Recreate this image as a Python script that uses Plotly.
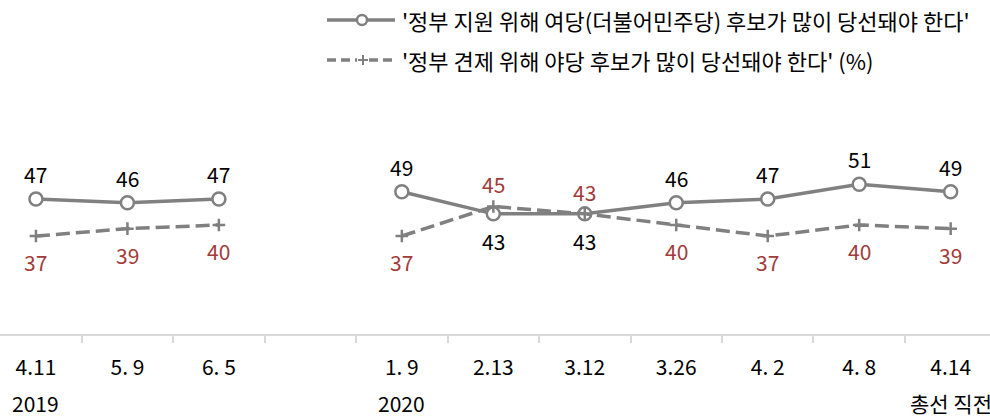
import plotly.graph_objects as go

categories = ["4.11", "5. 9", "6. 5", " ", "1. 9", "2.13", "3.12", "3.26", "4. 2", "4. 8", "4.14"]
sublabels = ["2019", "", "", "", "2020", "", "", "", "", "", "총선 직전"]
support_ruling = [47, 46, 47, None, 49, 43, 43, 46, 47, 51, 49]
check_opposition = [37, 39, 40, None, 37, 45, 43, 40, 37, 40, 39]
name_support = "'정부 지원 위해 여당(더불어민주당) 후보가 많이 당선돼야 한다'"
name_check = "'정부 견제 위해 야당 후보가 많이 당선돼야 한다' (%)"

FONT = "Noto Sans CJK KR"
GRAY = "#808080"
RED = "#A23B3B"
W, H = 990, 417
MT, MB = 100, 83
PH = H - MT - MB


def px_x(X):
    return X / W


def px_y(Y):
    return (H - MB - Y) / PH


fig = go.Figure()
fig.add_trace(go.Scatter(
    x=categories, y=support_ruling, name=name_support, mode="lines+markers",
    line=dict(color=GRAY, width=3.5),
    marker=dict(symbol="circle", size=13, color="white", line=dict(color=GRAY, width=2.5)),
    connectgaps=False, showlegend=False,
))
fig.add_trace(go.Scatter(
    x=categories, y=check_opposition, name=name_check, mode="lines+markers",
    line=dict(color=GRAY, width=3.5, dash="14px,6px"),
    marker=dict(symbol="cross-thin", size=9, color=GRAY, line=dict(color=GRAY, width=2.5)),
    connectgaps=False, showlegend=False,
))

annotations = []
for i, (a, b) in enumerate(zip(support_ruling, check_opposition)):
    if a is None:
        continue
    a_above = a > b
    annotations.append(dict(x=i, y=a, text=str(a), showarrow=False, xref="x", yref="y",
                            yshift=25 if a_above else -27,
                            font=dict(size=21, color="#000000", family=FONT)))
    annotations.append(dict(x=i, y=b, text=str(b), showarrow=False, xref="x", yref="y",
                            yshift=-26 if a_above else 22,
                            font=dict(size=21, color=RED, family=FONT)))
for i, s in enumerate(sublabels):
    if s:
        annotations.append(dict(x=i, y=0, xref="x", yref="paper", text=s, showarrow=False,
                                yanchor="middle", yshift=-69,
                                font=dict(size=21, color="#000000", family=FONT)))

# manual legend
shapes = []
legend_rows = [(name_support, 20, "solid"), (name_check, 60, "dash")]
for name, Y, kind in legend_rows:
    annotations.append(dict(x=px_x(400), y=px_y(Y), xref="paper", yref="paper", text=name,
                            showarrow=False, xanchor="left", yanchor="middle",
                            font=dict(size=22, color="#000000", family=FONT)))
    shapes.append(dict(type="line", xref="paper", yref="paper",
                       x0=px_x(327), x1=px_x(395), y0=px_y(Y), y1=px_y(Y),
                       line=dict(color=GRAY, width=3.5,
                                 dash="solid" if kind == "solid" else "9px,5px")))
    if kind == "solid":
        shapes.append(dict(type="circle", xref="paper", yref="paper",
                           xsizemode="pixel", ysizemode="pixel",
                           xanchor=px_x(362), yanchor=px_y(Y),
                           x0=-5, x1=5, y0=-5, y1=5,
                           fillcolor="white", line=dict(color=GRAY, width=2.5)))
    else:
        shapes.append(dict(type="rect", xref="paper", yref="paper",
                           xsizemode="pixel", ysizemode="pixel",
                           xanchor=px_x(363), yanchor=px_y(Y),
                           x0=-6, x1=6, y0=-3, y1=3,
                           fillcolor="white", line=dict(width=0)))
        shapes.append(dict(type="line", xref="paper", yref="paper",
                           xsizemode="pixel", ysizemode="pixel",
                           xanchor=px_x(363), yanchor=px_y(Y),
                           x0=-5, x1=5, y0=0, y1=0, line=dict(color=GRAY, width=2)))
        shapes.append(dict(type="line", xref="paper", yref="paper",
                           xsizemode="pixel", ysizemode="pixel",
                           xanchor=px_x(363), yanchor=px_y(Y),
                           x0=0, x1=0, y0=-5, y1=5, line=dict(color=GRAY, width=2)))

fig.update_layout(
    width=W, height=H,
    margin=dict(l=0, r=0, t=MT, b=MB),
    plot_bgcolor="white", paper_bgcolor="white",
    font=dict(family=FONT, size=21, color="#000000"),
    showlegend=False,
    annotations=annotations,
    shapes=shapes,
    xaxis=dict(type="category", categoryorder="array", categoryarray=categories,
               range=[-0.393, 10.43], showgrid=False, zeroline=False,
               showline=True, linecolor="#d9d9d9", linewidth=2,
               ticks="outside", tickson="boundaries", ticklen=7, tickcolor="#d9d9d9", tickwidth=1.5,
               ticklabelstandoff=14,
               tickfont=dict(size=21, family=FONT, color="#000000")),
    yaxis=dict(range=[10.5, 73.8], visible=False, showgrid=False, zeroline=False),
)

fig.write_html("out.html", config={"displayModeBar": False},
               post_script="document.body.style.margin='0px';")
